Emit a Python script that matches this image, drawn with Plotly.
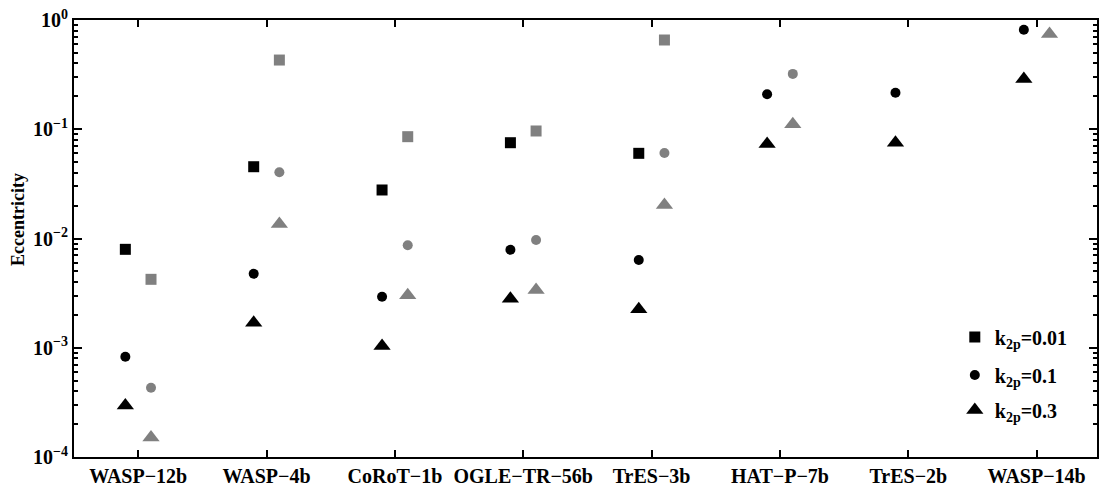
import plotly.graph_objects as go

planets = ["WASP−12b", "WASP−4b", "CoRoT−1b", "OGLE−TR−56b", "TrES−3b", "HAT−P−7b", "TrES−2b", "WASP−14b"]

# black markers (first estimate)
black_k001 = [0.00796, 0.0454, 0.0278, 0.0753, 0.0602, None, None, None]
black_k01 = [8.28e-4, 0.00476, 0.00293, 0.00789, 0.00636, 0.209, 0.216, 0.815]
black_k03 = [2.96e-4, 0.00169, 0.00104, 0.00281, 0.00225, 0.0733, 0.0753, 0.288]
# gray markers (second estimate)
gray_k001 = [0.00423, 0.430, 0.0855, 0.0964, 0.656, None, None, None]
gray_k01 = [4.31e-4, 0.0404, 0.00867, 0.00969, 0.0606, 0.321, None, None]
gray_k03 = [1.51e-4, 0.0136, 0.00302, 0.00338, 0.0203, 0.111, None, 0.744]

legend_names = ["k<sub>2p</sub>=0.01", "k<sub>2p</sub>=0.1", "k<sub>2p</sub>=0.3"]
ytick_vals = [1e-4, 1e-3, 1e-2, 1e-1, 1e0]
ytick_text = ["10<sup>−4</sup>", "10<sup>−3</sup>", "10<sup>−2</sup>", "10<sup>−1</sup>", "10<sup>0</sup>"]

pos = list(range(1, len(planets) + 1))
off = 0.1
FONT = "Liberation Serif"

fig = go.Figure()
symbols = ["square", "circle", "triangle-up"]
sizes = [11, 10, 15]
legend_ids = ["legend", "legend2", "legend3"]
for vals, sym, sz, name, lg in zip([black_k001, black_k01, black_k03], symbols, sizes, legend_names, legend_ids):
    fig.add_trace(go.Scatter(x=[p - off for p in pos], y=vals, mode="markers", name=name, legend=lg,
                             marker=dict(symbol=sym, size=sz, color="black", line=dict(width=0))))
for vals, sym, sz in zip([gray_k001, gray_k01, gray_k03], symbols, sizes):
    fig.add_trace(go.Scatter(x=[p + off for p in pos], y=vals, mode="markers", showlegend=False,
                             marker=dict(symbol=sym, size=sz, color="#808080", line=dict(width=0))))

minor_vals = [k * 10 ** e for e in range(-4, 0) for k in range(2, 10)]

def leg(ypix):
    return dict(x=0.861, y=(457 - ypix) / 437, xanchor="left", yanchor="middle", bgcolor="rgba(0,0,0,0)",
                font=dict(family=FONT, size=20, color="black", weight="bold"), itemwidth=30)

fig.update_layout(
    width=1103, height=487,
    margin=dict(l=74, r=6, t=20, b=30, autoexpand=False),
    paper_bgcolor="white", plot_bgcolor="white",
    font=dict(family=FONT, size=18, color="black"),
    showlegend=True,
    legend=leg(337), legend2=leg(375), legend3=leg(410),
    xaxis=dict(range=[0.5, 8.47], tickmode="array", tickvals=pos, ticktext=[f"<b>{p}</b>" for p in planets],
               ticks="inside", ticklen=7, tickwidth=2, tickcolor="black",
               showline=True, linewidth=2, linecolor="black", mirror="ticks",
               showgrid=False, zeroline=False, automargin=False,
               tickfont=dict(family=FONT, size=20, color="black")),
    yaxis=dict(type="log", range=[-4, 0], tickmode="array", tickvals=ytick_vals,
               ticktext=[f"<b>{t}</b>" for t in ytick_text],
               ticks="inside", ticklen=8, tickwidth=2, tickcolor="black",
               showline=True, linewidth=2, linecolor="black", mirror="ticks",
               showgrid=False, zeroline=False, automargin=False,
               minor=dict(tickvals=minor_vals, ticks="inside", ticklen=4, tickwidth=1.5, tickcolor="black", showgrid=False),
               tickfont=dict(family=FONT, size=20, color="black")),
    annotations=[dict(text="<b>Eccentricity</b>", xref="paper", yref="paper",
                      x=(18 - 74) / 1023, y=(457 - 220) / 437, xanchor="center", yanchor="middle",
                      textangle=-90, showarrow=False,
                      font=dict(family=FONT, size=18, color="black"))],
)

fig.write_html("out.html", config={"displayModeBar": False},
               post_script="document.body.style.margin='0';")
